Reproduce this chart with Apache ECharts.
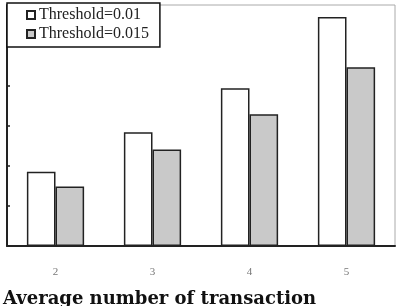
<!DOCTYPE html>
<html><head><meta charset="utf-8">
<script src="https://cdn.jsdelivr.net/npm/echarts@6/dist/echarts.min.js"></script>
<style>html,body{margin:0;padding:0;background:#fff}#c{width:400px;height:306px}</style>
</head><body><div id="c"></div>
<script>
var categories = ['2', '3', '4', '5'];
var seriesNames = ['Threshold=0.01', 'Threshold=0.015'];
var values001 = [1.85, 2.83, 3.93, 5.70];
var values0015 = [1.48, 2.40, 3.28, 4.45];
var axisName = 'Average number of transaction';

var chart = echarts.init(document.getElementById('c'), null, {renderer: 'canvas'});
var serif = 'Liberation Serif';
chart.setOption({
  animation: false,
  backgroundColor: '#fff',
  grid: {left: 7, right: 5, top: 5, bottom: 60, show: true, borderColor: '#aaa', borderWidth: 1, backgroundColor: 'transparent'},
  legend: {
    orient: 'vertical', left: 7, top: 3,
    data: seriesNames,
    itemWidth: 8, itemHeight: 8, itemGap: 3, icon: 'rect',
    padding: [4, 11, 5, 19],
    borderColor: '#111', borderWidth: 1.5, backgroundColor: '#fff',
    textStyle: {fontFamily: serif, fontSize: 16, color: '#222', padding: [0, 0, 0, -1]}
  },
  title: {
    text: axisName, left: -2, top: 285,
    textStyle: {fontFamily: 'DejaVu Serif', fontWeight: 'bold', fontSize: 18, color: '#111'}
  },
  xAxis: {
    type: 'category', data: categories,
    axisLine: {lineStyle: {color: '#222', width: 2}},
    axisTick: {inside: true, length: 4, lineStyle: {color: '#222', width: 1.5}},
    axisLabel: {fontFamily: serif, fontSize: 11, color: '#777', margin: 21}
  },
  yAxis: {
    type: 'value', min: 0, max: 6, interval: 1,
    axisLine: {show: true, lineStyle: {color: '#222', width: 2}},
    axisTick: {show: true, inside: true, length: 3, lineStyle: {color: '#222', width: 1.5}},
    axisLabel: {show: false},
    splitLine: {show: false}
  },
  series: [
    {name: seriesNames[0], type: 'bar', data: values001, barGap: '0%', barCategoryGap: '41%',
     itemStyle: {color: '#fff', borderColor: '#222', borderWidth: 1.5}},
    {name: seriesNames[1], type: 'bar', data: values0015,
     itemStyle: {color: '#c9c9c9', borderColor: '#222', borderWidth: 1.5}}
  ]
});
</script></body></html>
